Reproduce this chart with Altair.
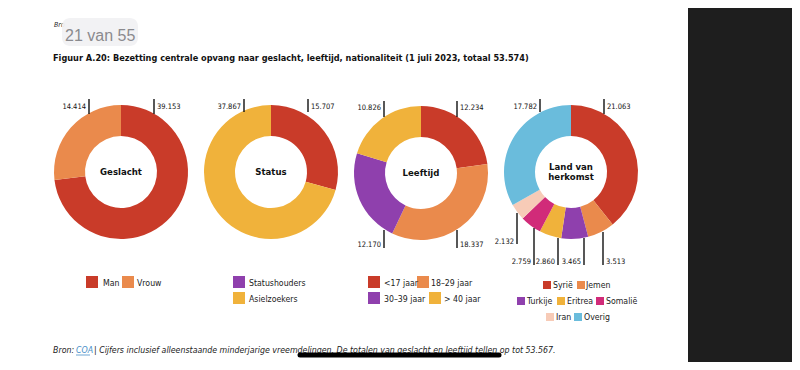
import math
import altair as alt
import pandas as pd

# ---------------- data ----------------
geslacht_cats = ["Man", "Vrouw"]
geslacht_vals = [39153, 14414]
status_cats = ["Statushouders", "Asielzoekers"]
status_vals = [15707, 37867]
leeftijd_cats = ["<17 jaar", "18–29 jaar", "30–39 jaar", "> 40 jaar"]
leeftijd_vals = [12234, 18337, 12170, 10826]
land_cats = ["Syrië", "Jemen", "Turkije", "Eritrea", "Somalië", "Iran", "Overig"]
land_vals = [21063, 3513, 3465, 2860, 2759, 2132, 17782]
panel_titles = ["Geslacht", "Status", "Leeftijd", "Land van|herkomst"]

title_text = "Figuur A.20: Bezetting centrale opvang naar geslacht, leeftijd, nationaliteit (1 juli 2023, totaal 53.574)"
footer_rest = "| Cijfers inclusief alleenstaande minderjarige vreemdelingen. De totalen van geslacht en leeftijd tellen op tot 53.567."

# ---------------- styles ----------------
RED, ORANGE, YELLOW = "#c93b29", "#ea8a4c", "#f0b23b"
PURPLE, MAGENTA, PEACH, BLUE = "#8f40ad", "#d12b79", "#f7cbb7", "#6abcdc"
slice_colors = [[RED, ORANGE], [RED, YELLOW], [RED, ORANGE, PURPLE, YELLOW],
                [RED, ORANGE, PURPLE, YELLOW, MAGENTA, PEACH, BLUE]]
legend_colors = [[RED, ORANGE], [PURPLE, YELLOW], [RED, ORANGE, PURPLE, YELLOW],
                 [RED, ORANGE, PURPLE, YELLOW, MAGENTA, PEACH, BLUE]]
FONT = "DejaVu Sans Condensed, Roboto, sans-serif"

# layout (page pixel coordinates)
centers = [(121, 172), (271, 172), (421, 173), (571, 172)]
label_layout = [
    [(154, 99, 114, 157, 107, "left"), (89, 99, 114, 86, 107, "right")],
    [(308, 99, 112, 311, 107, "left"), (244, 99, 112, 241, 107, "right")],
    [(457, 101, 117, 460, 108, "left"), (457, 230, 248, 460, 245, "left"),
     (384, 230, 248, 381, 245, "right"), (384, 101, 117, 381, 108, "right")],
    [(604, 99, 114, 607, 107, "left"), (603, 232, 265, 606, 262, "left"),
     (584, 238, 265, 581, 262, "right"), (558, 238, 265, 555, 262, "right"),
     (534, 228, 265, 531, 262, "right"), (517, 213, 244, 514, 242, "right"),
     (540, 99, 112, 537, 107, "right")],
]
legend_layout = [
    [(86, 276, 12, 103, 283), (122, 276, 12, 137, 283)],
    [(233, 276, 12, 249, 283), (233, 292, 12, 249, 299)],
    [(368, 276, 12, 384, 283), (417, 276, 12, 431, 283),
     (368, 292, 12, 384, 299), (429, 292, 12, 444, 299)],
    [(543, 281, 8, 553, 285), (577, 281, 8, 586, 285), (517, 297, 8, 527, 301),
     (557, 297, 8, 567, 301), (596, 297, 8, 606, 301), (546, 313, 8, 556, 317),
     (574, 313, 8, 584, 317)],
]

all_cats = [geslacht_cats, status_cats, leeftijd_cats, land_cats]
all_vals = [geslacht_vals, status_vals, leeftijd_vals, land_vals]

# ---------------- tables ----------------
arc_rows, lab_rows, leg_rows, ctr_rows = [], [], [], []
for p, (cats, vals) in enumerate(zip(all_cats, all_vals)):
    tot = sum(vals)
    cum = 0
    cx, cy = centers[p]
    for i, (c, v) in enumerate(zip(cats, vals)):
        arc_rows.append(dict(cat=c, start=cum / tot, end=(cum + v) / tot,
                             cx=cx, cy=cy, fill=slice_colors[p][i]))
        cum += v
        lx, y1, y2, tx, ty, al = label_layout[p][i]
        lab_rows.append(dict(lx=lx, y1=y1, y2=y2, tx=tx, ty=ty, align=al,
                             txt=f"{v:,}".replace(",", ".")))
        sx, sy, ss, ltx, lty = legend_layout[p][i]
        leg_rows.append(dict(x=sx, x2=sx + ss, y=sy, y2=sy + ss, tx=ltx, ty=lty,
                             txt=c, fill=legend_colors[p][i]))
    lines = panel_titles[p].split("|")
    for k, ln in enumerate(lines):
        ctr_rows.append(dict(x=cx, y=cy + (k - (len(lines) - 1) / 2) * 10.5, txt=ln))

arcs = pd.DataFrame(arc_rows)
labs = pd.DataFrame(lab_rows)
legs = pd.DataFrame(leg_rows)
ctrs = pd.DataFrame(ctr_rows)

XS = alt.Scale(domain=[8, 792], range=[0, 784])
YS = alt.Scale(domain=[8, 362], range=[0, 354])


def X(f):
    return alt.X(f, type="quantitative", scale=XS, axis=None)


def Y(f):
    return alt.Y(f, type="quantitative", scale=YS, axis=None)


layers = []

# dark frame on the right
frame = pd.DataFrame([dict(x=688, x2=792, y=8, y2=362)])
layers.append(alt.Chart(frame).mark_rect(color="#1e1e1e").encode(
    x=X("x"), x2="x2", y=Y("y"), y2="y2"))

# donuts
layers.append(alt.Chart(arcs).mark_arc(innerRadius=36, outerRadius=67).encode(
    x=X("cx"), y=Y("cy"),
    theta=alt.Theta("start:Q", stack=None, scale=alt.Scale(domain=[0, 1], range=[0, 2 * math.pi])),
    theta2="end:Q",
    fill=alt.Fill("fill:N", scale=None),
))

# leader lines
layers.append(alt.Chart(labs).mark_rule(color="#111111", strokeWidth=1.4).encode(
    x=X("lx"), y=Y("y1"), y2="y2"))
for al in ["left", "right"]:
    layers.append(alt.Chart(labs[labs["align"] == al]).mark_text(
        align=al, baseline="middle", font=FONT, fontSize=7.5, color="#111111").encode(
        x=X("tx"), y=Y("ty"), text="txt:N"))

# centre labels
layers.append(alt.Chart(ctrs).mark_text(
    align="center", baseline="middle", font=FONT, fontSize=9.5, fontWeight="bold", color="#111111").encode(
    x=X("x"), y=Y("y"), text="txt:N"))

# legends
layers.append(alt.Chart(legs).mark_rect().encode(
    x=X("x"), x2="x2", y=Y("y"), y2="y2", fill=alt.Fill("fill:N", scale=None)))
layers.append(alt.Chart(legs).mark_text(
    align="left", baseline="middle", font=FONT, fontSize=8.7, color="#222222").encode(
    x=X("tx"), y=Y("ty"), text="txt:N"))

# title
tdf = pd.DataFrame([dict(x=53, y=58, txt=title_text)])
layers.append(alt.Chart(tdf).mark_text(
    align="left", baseline="middle", font=FONT, fontSize=9.1, fontWeight="bold", color="#111111").encode(
    x=X("x"), y=Y("y"), text="txt:N"))

# "Bro" + page indicator overlay
bdf = pd.DataFrame([dict(x=54, y=25, txt="Bro")])
layers.append(alt.Chart(bdf).mark_text(
    align="left", baseline="middle", font=FONT, fontSize=7, fontStyle="italic", color="#222222").encode(
    x=X("x"), y=Y("y"), text="txt:N"))
odf = pd.DataFrame([dict(x=62, x2=138, y=18, y2=46)])
layers.append(alt.Chart(odf).mark_rect(color="#f1f1f3", cornerRadius=8, opacity=0.95).encode(
    x=X("x"), x2="x2", y=Y("y"), y2="y2"))
pdf = pd.DataFrame([dict(x=65, y=36, txt="21 van 55")])
layers.append(alt.Chart(pdf).mark_text(
    align="left", baseline="middle", font="Liberation Sans, Arial, sans-serif", fontSize=16, color="#8a8a8e").encode(
    x=X("x"), y=Y("y"), text="txt:N"))

# footer
fdf = pd.DataFrame([dict(x=53, y=350, txt="Bron:", c="#222222"),
                    dict(x=76, y=350, txt="COA", c="#4a8fc8"),
                    dict(x=94, y=350, txt=footer_rest, c="#222222")])
layers.append(alt.Chart(fdf).mark_text(
    align="left", baseline="middle", font=FONT, fontSize=8.75, fontStyle="italic").encode(
    x=X("x"), y=Y("y"), text="txt:N", color=alt.Color("c:N", scale=None)))
udf = pd.DataFrame([dict(x=76, x2=90, y=355)])
layers.append(alt.Chart(udf).mark_rule(color="#4a8fc8", strokeWidth=0.8).encode(
    x=X("x"), x2="x2", y=Y("y")))

# home indicator bar
hdf = pd.DataFrame([dict(x=300, x2=499, y=355)])
layers.append(alt.Chart(hdf).mark_rule(color="#000000", strokeWidth=5, strokeCap="round").encode(
    x=X("x"), x2="x2", y=Y("y")))

chart = alt.layer(*layers).properties(
    width=784, height=354, padding=0, autosize=alt.AutoSizeParams(type="none"),
    background="white",
).configure_view(strokeWidth=0)

chart.save("out.html", embed_options={"renderer": "svg", "actions": False})
